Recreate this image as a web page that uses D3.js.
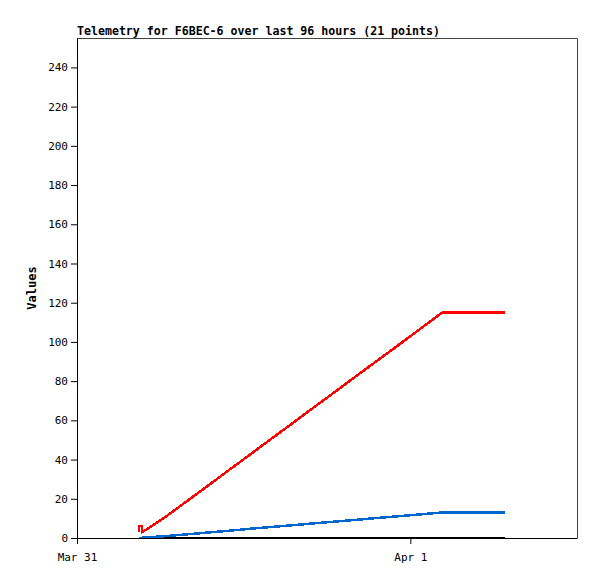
<html>
    <head>
        <script src='https://d3js.org/d3.v7.min.js'></script>
        <style>
            body { margin: 0; background: #fff; }
            text { font-family: "DejaVu Sans Mono", "Liberation Mono", monospace; }
        </style>
    </head>

    <body onload='init()'>
        <svg width=597 height=579></svg>

        <script>
            // hours after Mar 31 00:00
            const hours = [4.45, 4.47, 4.68, 4.70, 6.3, 7.8, 9.3, 10.8, 12.3, 13.8, 15.3,
                           16.8, 18.3, 19.8, 21.3, 22.8, 24.3, 26.3, 27.8, 29.3, 30.8];
            const redVals = [3, 6, 6, 3, 10.4, 18.2, 26.0, 33.9, 41.7, 49.6, 57.4,
                             65.3, 73.1, 81.0, 88.8, 96.6, 104.5, 115, 115, 115, 115];
            const blueVals = [0, 0, 0.1, 0.2, 0.9, 1.8, 2.7, 3.6, 4.6, 5.5, 6.4,
                              7.3, 8.2, 9.1, 10.0, 10.9, 11.8, 13.0, 13.0, 13.0, 13.0];
            const blackVals = [0, 0, 0, 0, 0, 0, 0, 0, 0, 0, 0,
                               0, 0, 0, 0, 0, 0, 0, 0, 0, 0];
            const yTicks = [0, 20, 40, 60, 80, 100, 120, 140, 160, 180, 200, 220, 240];
            const xTickDates = ["2024-03-31T00:00", "2024-04-01T00:00"];
            const title = "Telemetry for F6BEC-6 over last 96 hours (21 points)";

            function init() {
                const svg = d3.select("svg");
                const mg_left = 77, mg_top = 38, w = 500, h = 500;
                const base = new Date("2024-03-31T00:00");
                const times = hours.map(function(hh) {return new Date(base.getTime() + hh * 3600e3)});

                const xs = d3.scaleTime()
                    .domain([base, new Date("2024-04-01T12:00")])
                    .range([0, w]);
                const ys = d3.scaleLinear()
                    .domain([0, 255])
                    .range([h, 0]);

                const g = svg.append("g")
                    .attr("transform", "translate(" + mg_left + "," + mg_top + ")");

                // frame top/right
                g.append("path")
                    .attr("d", "M0,0.5H" + (w + 0.5) + "V" + h)
                    .attr("fill", "none")
                    .attr("stroke", "#444");

                // series
                const series = [
                    {vals: blackVals, color: "#000", width: 2.5},
                    {vals: blueVals, color: "#0066cc", width: 2.5},
                    {vals: redVals, color: "#ff0000", width: 2.5}
                ];
                series.forEach(function(s) {
                    const line = d3.line()
                        .x(function(d, i) {return xs(times[i])})
                        .y(function(d) {return ys(d)});
                    g.append("path")
                        .datum(s.vals)
                        .attr("d", line)
                        .attr("fill", "none")
                        .attr("stroke", s.color)
                        .attr("stroke-width", s.width)
                        .attr("stroke-linejoin", "miter")
                        .attr("shape-rendering", "crispEdges");
                });

                // y axis
                const yAx = g.append("g")
                    .call(d3.axisLeft(ys).tickValues(yTicks).tickSize(6).tickSizeOuter(0));
                yAx.selectAll("text").style("font-size", "11px").attr("fill", "#000");
                yAx.selectAll("line, path").attr("stroke", "#000");

                // x axis
                const xAx = g.append("g")
                    .attr("transform", "translate(0," + h + ")")
                    .call(d3.axisBottom(xs)
                        .tickValues(xTickDates.map(function(d) {return new Date(d)}))
                        .tickFormat(d3.timeFormat("%b %-d"))
                        .tickSize(6).tickSizeOuter(0));
                xAx.selectAll("text").style("font-size", "11px").attr("fill", "#000").attr("dy", "1.25em");
                xAx.selectAll("line, path").attr("stroke", "#000");

                // title
                svg.append("text")
                    .attr("x", mg_left)
                    .attr("y", 35)
                    .style("font-size", "11.6px")
                    .style("font-weight", "bold")
                    .text(title);

                // y label
                svg.append("text")
                    .attr("transform", "translate(36," + (mg_top + h / 2) + ") rotate(-90)")
                    .style("text-anchor", "middle")
                    .style("font-size", "12px")
                    .style("font-weight", "bold")
                    .text("Values");
            }
        </script>
    </body>
</html>
